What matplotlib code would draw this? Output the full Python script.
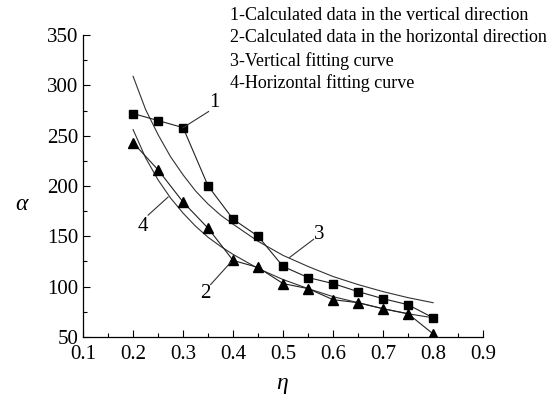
import matplotlib
matplotlib.use("Agg")
import matplotlib.pyplot as plt
from matplotlib.ticker import MultipleLocator

plt.rcParams['font.family'] = ['Liberation Serif', 'DejaVu Serif']
plt.rcParams['mathtext.fontset'] = 'custom'
plt.rcParams['mathtext.it'] = 'Liberation Serif:italic'

# Data
eta_pts = [0.20, 0.25, 0.30, 0.35, 0.40, 0.45, 0.50, 0.55, 0.60, 0.65, 0.70, 0.75, 0.80]
vertical_data = [272, 265, 258, 200, 167, 150, 120, 109, 103, 95, 88, 82, 69]
horizontal_data = [243, 216, 184, 158, 126, 119, 103, 98, 87, 84, 78, 73, 53]

eta_fit = [0.20, 0.225, 0.25, 0.275, 0.30, 0.325, 0.35, 0.375, 0.40, 0.45,
           0.50, 0.55, 0.60, 0.65, 0.70, 0.75, 0.80]
vertical_fit = [309, 276, 251, 229, 211, 195, 182, 171, 162, 145,
                131, 120, 110, 102, 95, 89, 84]
horizontal_fit = [256, 228, 206, 188, 173, 160, 149, 140, 132, 118,
                  107, 98, 90, 84, 78, 73, 69]

legend_lines = ["1-Calculated data in the vertical direction",
                "2-Calculated data in the horizontal direction",
                "3-Vertical fitting curve",
                "4-Horizontal fitting curve"]

# annotations: label, text pos, leader start, leader end
annots = [("1", (0.362, 283), (0.30, 258), (0.351, 274)),
          ("2", (0.345, 93), (0.395, 124), (0.355, 102)),
          ("3", (0.573, 152), (0.513, 129), (0.561, 147)),
          ("4", (0.220, 160), (0.270, 189), (0.230, 171))]

fig = plt.figure(figsize=(5.54, 4.03), dpi=100)
ax = fig.add_axes([0.150, 0.164, 0.722, 0.749])

lw = 0.8
ax.plot(eta_fit, vertical_fit, color='#333333', lw=lw)
ax.plot(eta_fit, horizontal_fit, color='#333333', lw=lw)
ax.plot(eta_pts, vertical_data, color='#222222', lw=lw, marker='s', ms=5.5,
        mfc='black', mec='black')
ax.plot(eta_pts, horizontal_data, color='#222222', lw=lw, marker='^', ms=6.5,
        mfc='black', mec='black')

for lab, tpos, p0, p1 in annots:
    ax.plot([p0[0], p1[0]], [p0[1], p1[1]], color='#333333', lw=lw)
    ax.text(tpos[0], tpos[1], lab, fontsize=15, ha='center', va='center')

ax.set_xlim(0.1, 0.9)
ax.set_ylim(50, 350)
ax.xaxis.set_major_locator(MultipleLocator(0.1))
ax.xaxis.set_minor_locator(MultipleLocator(0.05))
ax.yaxis.set_major_locator(MultipleLocator(50))
ax.yaxis.set_minor_locator(MultipleLocator(25))
ax.set_xticklabels([f"{v:.1f}" for v in ax.get_xticks()])
ax.tick_params(which='both', direction='in', width=0.8, labelsize=15)
ax.tick_params(which='major', length=5)
ax.tick_params(which='minor', length=3)
ax.tick_params(axis='x', pad=6)
for s in ['top', 'right']:
    ax.spines[s].set_visible(False)
for s in ['left', 'bottom']:
    ax.spines[s].set_linewidth(0.9)

fig.text(22 / 554, 1 - 205 / 403, r'$\alpha$', fontsize=17, ha='center', va='center')
fig.text(282 / 554, 1 - 386 / 403, r'$\eta$', fontsize=17, ha='center', va='center')

ys = [15, 38, 61, 83]
for t, y in zip(legend_lines, ys):
    fig.text(230 / 554, 1 - y / 403, t, fontsize=13, ha='left', va='center')

fig.savefig('out.png', dpi=100, facecolor='white')
